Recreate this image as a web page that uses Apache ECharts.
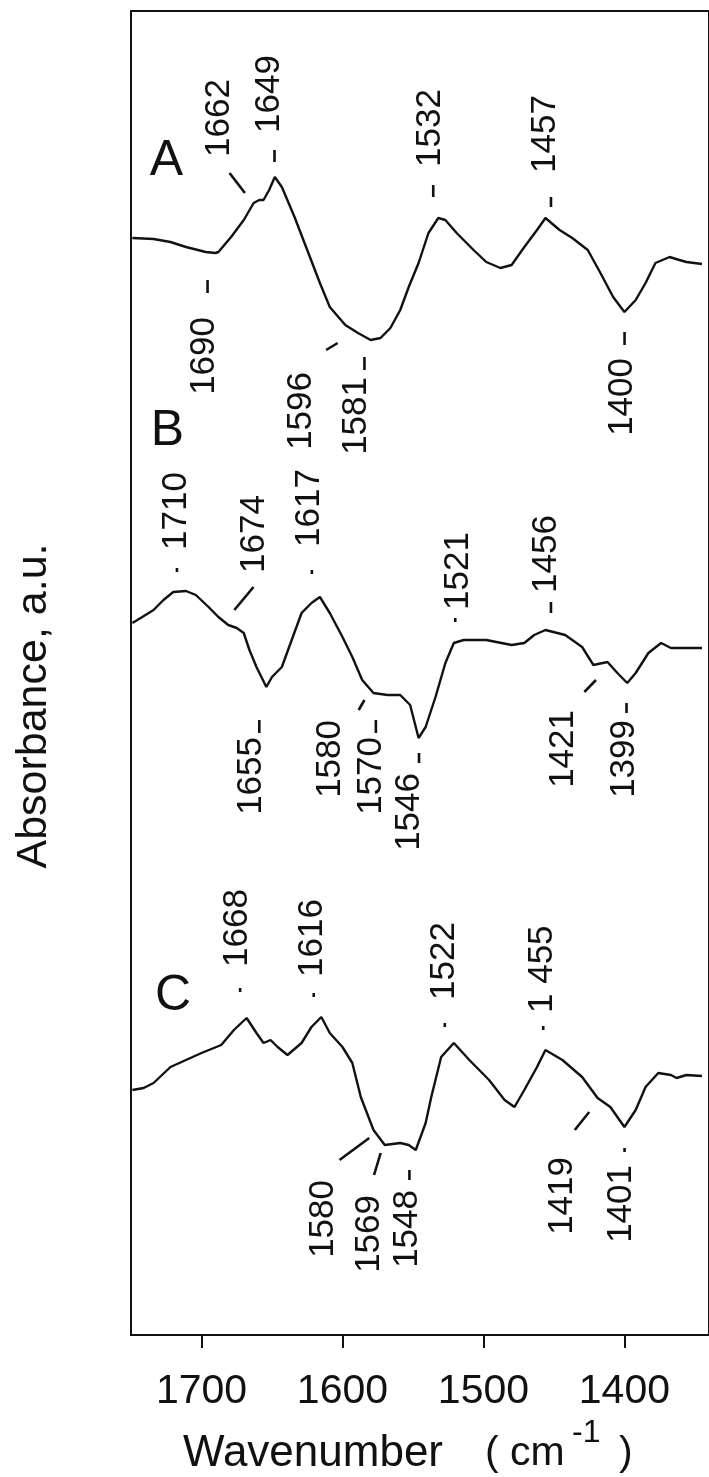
<!DOCTYPE html>
<html><head><meta charset="utf-8">
<script src="https://cdn.jsdelivr.net/npm/echarts@6/dist/echarts.min.js"></script>
<style>html,body{margin:0;padding:0;background:#fff}#c{width:709px;height:1477px}</style>
</head><body><div id="c"></div>
<script>
// x tick values (wavenumber, cm-1)
const xTicks = [1700, 1600, 1500, 1400];
// vertical offsets of the stacked spectra (a.u.)
const offsetA = 10.97, offsetB = 7.12, offsetC = 2.45;
// spectrum A: [wavenumber, absorbance relative to its own baseline]
const specA = [[1749,0.00],[1734,-0.01],[1722,-0.04],[1711,-0.09],[1697,-0.14],[1690,-0.15],[1688,-0.14],[1679,0.01],[1670,0.18],[1663,0.35],[1659,0.38],[1656,0.38],[1652,0.48],[1648,0.61],[1643,0.51],[1634,0.21],[1625,-0.12],[1616,-0.45],[1609,-0.69],[1598,-0.87],[1589,-0.95],[1580,-1.02],[1573,-1.00],[1566,-0.90],[1559,-0.72],[1553,-0.49],[1546,-0.25],[1539,0.05],[1532,0.20],[1527,0.18],[1519,0.05],[1507,-0.12],[1498,-0.24],[1488,-0.30],[1480,-0.27],[1471,-0.09],[1462,0.08],[1456,0.20],[1446,0.08],[1437,0.00],[1426,-0.12],[1417,-0.35],[1408,-0.59],[1400,-0.74],[1392,-0.62],[1385,-0.45],[1378,-0.25],[1368,-0.19],[1361,-0.22],[1356,-0.24],[1345,-0.26]];
const specB = [[1749,0.00],[1742,0.06],[1734,0.13],[1727,0.23],[1720,0.31],[1711,0.32],[1704,0.28],[1695,0.16],[1688,0.06],[1681,-0.02],[1675,-0.05],[1670,-0.10],[1666,-0.27],[1661,-0.44],[1654,-0.64],[1650,-0.54],[1643,-0.44],[1636,-0.17],[1629,0.10],[1622,0.20],[1616,0.26],[1609,0.10],[1600,-0.14],[1593,-0.34],[1586,-0.57],[1578,-0.70],[1568,-0.72],[1559,-0.72],[1552,-0.82],[1546,-1.15],[1541,-1.04],[1534,-0.74],[1527,-0.40],[1521,-0.20],[1514,-0.17],[1498,-0.17],[1480,-0.22],[1471,-0.20],[1464,-0.12],[1456,-0.07],[1442,-0.12],[1430,-0.24],[1422,-0.42],[1412,-0.39],[1405,-0.50],[1398,-0.60],[1392,-0.50],[1383,-0.30],[1374,-0.20],[1367,-0.25],[1356,-0.25],[1345,-0.25]];
const specC = [[1749,0.00],[1741,0.02],[1734,0.07],[1722,0.23],[1711,0.30],[1700,0.37],[1686,0.45],[1677,0.60],[1668,0.72],[1661,0.57],[1656,0.47],[1651,0.50],[1646,0.43],[1639,0.35],[1629,0.47],[1622,0.63],[1615,0.73],[1609,0.57],[1600,0.43],[1593,0.27],[1587,-0.07],[1578,-0.40],[1570,-0.55],[1559,-0.53],[1553,-0.55],[1548,-0.60],[1541,-0.33],[1537,-0.07],[1530,0.33],[1521,0.47],[1510,0.30],[1496,0.10],[1485,-0.10],[1478,-0.17],[1471,0.00],[1462,0.23],[1456,0.40],[1444,0.30],[1430,0.13],[1419,-0.08],[1410,-0.17],[1400,-0.37],[1392,-0.20],[1385,0.03],[1376,0.17],[1367,0.15],[1363,0.12],[1356,0.15],[1345,0.14]];
// peak labels: [text, wavenumber, absorbance (stacked), direction away from curve]
const peakLabels = [
 ['1662',1687.2,11.78,'up'],['1649',1651.6,12.02,'up'],['1690',1697.7,10.18,'down'],['1596',1629.2,9.63,'down'],
 ['1581',1589.9,9.58,'down'],['1532',1537.6,11.68,'up'],['1457',1456.2,11.62,'up'],['1400',1401.3,9.77,'down'],
 ['1710',1718.1,7.85,'up'],['1674',1662.4,7.62,'up'],['1617',1623.8,7.88,'up'],['1655',1664.5,5.98,'down'],
 ['1580',1608.9,6.15,'down'],['1570',1579.7,5.98,'down'],['1546',1552.5,5.62,'down'],['1521',1517.9,7.25,'up'],
 ['1456',1455.5,7.42,'up'],['1421',1443.3,6.25,'down'],['1399',1399.9,6.15,'down'],
 ['1668',1674.7,3.68,'up'],['1616',1621.7,3.58,'up'],['1522',1527.4,3.35,'up'],['1 455',1458.2,3.22,'up'],
 ['1580',1613.6,1.55,'down'],['1569',1581.0,1.40,'down'],['1548',1553.9,1.45,'down'],['1419',1444.0,1.78,'down'],
 ['1401',1401.9,1.70,'down']
];
// leader ticks next to peak labels: [wn1, a1, wn2, a2]
const leaderTicks = [
 [1680.1,11.62,1669.2,11.42],[1648.2,11.85,1648.2,11.73],[1695.7,10.55,1695.7,10.42],[1611.6,9.85,1603.4,9.92],
 [1584.4,9.78,1584.4,9.65],[1535.6,11.50,1535.6,11.38],[1452.1,11.38,1452.1,11.28],[1399.9,10.03,1399.9,9.90],
 [1717.4,7.67,1717.4,7.63],[1676.7,7.25,1663.1,7.48],[1621.7,7.65,1621.7,7.61],[1659.0,6.15,1659.0,6.02],
 [1588.5,6.25,1584.4,6.35],[1576.3,6.15,1576.3,6.02],[1545.7,5.82,1545.7,5.72],[1520.0,7.17,1520.0,7.13],
 [1452.1,7.33,1452.1,7.22],[1428.4,6.43,1420.2,6.55],[1398.5,6.32,1398.5,6.22],
 [1672.6,3.47,1672.6,3.43],[1620.4,3.42,1620.4,3.38],[1527.4,3.12,1527.4,3.08],[1457.6,3.09,1457.6,3.05],
 [1602.1,1.75,1581.0,1.97],[1577.6,1.60,1572.9,1.82],[1552.5,1.65,1552.5,1.55],[1435.2,2.05,1425.0,2.23],
 [1399.9,1.87,1399.9,1.83]
];
// panel letters: [text, wn, a]
const panelLabels = [['A',1724.9,11.74],['B',1724.2,9.04],['C',1720.1,3.39]];

const FONT = "'Liberation Sans', Arial, sans-serif";
const INK = '#111';
const shift = (arr, off) => arr.map(p => [p[0], p[1] + off]);

const chart = echarts.init(document.getElementById('c'), null, {renderer: 'canvas'});
const lineSeries = (data) => ({type:'line', data, showSymbol:false, symbol:'none', smooth:false,
  lineStyle:{color:INK, width:2.4}, silent:true, animation:false, z:3});

chart.setOption({
  animation:false,
  backgroundColor:'#fff',
  grid:{left:131, top:11, width:604, height:1324, show:true, borderColor:INK, borderWidth:2, backgroundColor:'transparent'},
  xAxis:{type:'value', min:1340, max:1750, inverse:true,
    axisLine:{show:true, lineStyle:{color:INK, width:2}},
    axisTick:{show:true, customValues:xTicks, length:13, lineStyle:{color:INK, width:2}},
    axisLabel:{show:true, customValues:xTicks, formatter:(v)=>String(Math.round(v)), fontSize:41, fontFamily:FONT, color:INK, margin:36},
    splitLine:{show:false}},
  yAxis:{type:'value', min:0, max:13.24, show:false},
  graphic:[
    {type:'text', x:34, y:706, rotation:Math.PI/2, style:{text:'Absorbance, a.u.', font:'43px '+FONT, fill:INK, align:'center', verticalAlign:'middle'}},
    {type:'text', x:183, y:1454, style:{text:'Wavenumber', font:'44px '+FONT, fill:INK, align:'left', verticalAlign:'middle'}},
    {type:'text', x:485, y:1454, style:{text:'(', font:'41px '+FONT, fill:INK, align:'left', verticalAlign:'middle'}},
    {type:'text', x:510, y:1454, style:{text:'cm', font:'41px '+FONT, fill:INK, align:'left', verticalAlign:'middle'}},
    {type:'text', x:572, y:1433, style:{text:'-1', font:'32px '+FONT, fill:INK, align:'left', verticalAlign:'middle'}},
    {type:'text', x:619, y:1454, style:{text:')', font:'41px '+FONT, fill:INK, align:'left', verticalAlign:'middle'}}
  ],
  series:[
    lineSeries(shift(specA, offsetA)),
    lineSeries(shift(specB, offsetB)),
    lineSeries(shift(specC, offsetC)),
    {type:'custom', silent:true, clip:false, z:4,
      data: peakLabels.map((l,i)=>[l[1], l[2], i]),
      encode:{x:0, y:1},
      renderItem:(params, api)=>{
        const l = peakLabels[api.value(2)];
        const p = api.coord([api.value(0), api.value(1)]);
        return {type:'text', x:p[0], y:p[1], rotation:Math.PI/2,
          style:{text:l[0], font:'35px '+FONT, fill:INK, align: l[3]==='up'?'left':'right', verticalAlign:'middle'}};
      }},
    {type:'custom', silent:true, clip:false, z:4,
      data: leaderTicks,
      encode:{x:[0,2], y:[1,3]},
      renderItem:(params, api)=>{
        const a = api.coord([api.value(0), api.value(1)]);
        const b = api.coord([api.value(2), api.value(3)]);
        return {type:'line', shape:{x1:a[0], y1:a[1], x2:b[0], y2:b[1]}, style:{stroke:INK, lineWidth:2.6}};
      }},
    {type:'custom', silent:true, clip:false, z:4,
      data: panelLabels.map((l,i)=>[l[1], l[2], i]),
      encode:{x:0, y:1},
      renderItem:(params, api)=>{
        const l = panelLabels[api.value(2)];
        const p = api.coord([api.value(0), api.value(1)]);
        return {type:'text', x:p[0], y:p[1],
          style:{text:l[0], font:'50px '+FONT, fill:INK, align:'center', verticalAlign:'middle'}};
      }}
  ]
});
</script>
</body></html>
